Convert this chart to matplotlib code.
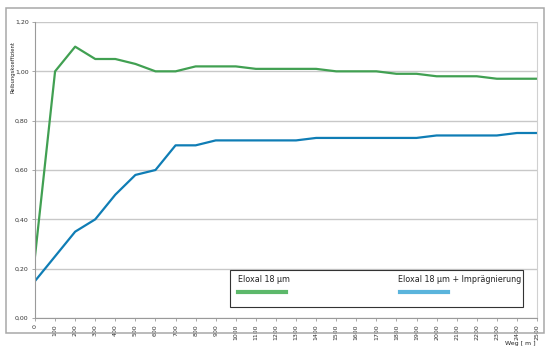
import matplotlib
matplotlib.use("Agg")
import matplotlib.pyplot as plt
from matplotlib.patches import Rectangle
from matplotlib.lines import Line2D

weg = [0, 100, 200, 300, 400, 500, 600, 700, 800, 900, 1000, 1100, 1200,
       1300, 1400, 1500, 1600, 1700, 1800, 1900, 2000, 2100, 2200, 2300, 2400, 2500]
eloxal = [0.25, 1.00, 1.10, 1.05, 1.05, 1.03, 1.00, 1.00, 1.02, 1.02, 1.02, 1.01, 1.01,
          1.01, 1.01, 1.00, 1.00, 1.00, 0.99, 0.99, 0.98, 0.98, 0.98, 0.97, 0.97, 0.97]
eloxal_impr = [0.15, 0.25, 0.35, 0.40, 0.50, 0.58, 0.60, 0.70, 0.70, 0.72, 0.72, 0.72, 0.72,
               0.72, 0.73, 0.73, 0.73, 0.73, 0.73, 0.73, 0.74, 0.74, 0.74, 0.74, 0.75, 0.75]
y_ticks = [0.0, 0.2, 0.4, 0.6, 0.8, 1.0, 1.2]
y_ticklabels = ["0,00", "0,20", "0,40", "0,60", "0,80", "1,00", "1,20"]
x_ticklabels = [str(v) for v in weg]
series_names = ["Eloxal 18 µm", "Eloxal 18 µm + Imprägnierung"]

green = "#41a052"
blue = "#0f7db5"

fig = plt.figure(figsize=(5.5, 3.54), dpi=100)
fig.patch.set_facecolor("white")

# outer frame (scan look)
fig.patches.append(Rectangle((6/550, 1-333/354), 538/550, 325/354, transform=fig.transFigure,
                             fill=False, edgecolor="#a8a8a8", linewidth=1.1))

ax = fig.add_axes([35/550, 1-318/354, 502/550, 296/354])
ax.plot(weg, eloxal, color=green, linewidth=1.6)
ax.plot(weg, eloxal_impr, color=blue, linewidth=1.6)

ax.set_xlim(0, 2500)
ax.set_ylim(0, 1.2)
ax.set_yticks(y_ticks)
ax.set_yticklabels(y_ticklabels, fontsize=4.5, color="#333333")
ax.set_xticks(weg)
ax.set_xticklabels(x_ticklabels, fontsize=4.5, rotation=90, color="#333333")
ax.yaxis.grid(True, color="#c8c8c8", linewidth=1.0)
ax.set_axisbelow(True)
ax.spines["top"].set_visible(False)
ax.spines["left"].set_color("#9a9a9a")
ax.spines["bottom"].set_color("#9a9a9a")
ax.spines["right"].set_color("#d0d0d0")
ax.tick_params(axis="both", length=2.5, width=0.6, color="#9a9a9a", pad=2)

fig.text(13/550, 1-67/354, "Reibungskoeffizient", rotation=90, fontsize=3.8,
         ha="center", va="center", color="#222222")
fig.text(520/550, 1-343/354, "Weg [ m ]", fontsize=4.5, ha="center", va="center",
         color="#222222")

# legend box
lx0, ly0, lx1, ly1 = 230, 270, 523, 307
fig.patches.append(Rectangle((lx0/550, 1-ly1/354), (lx1-lx0)/550, (ly1-ly0)/354,
                             transform=fig.transFigure, facecolor="white",
                             edgecolor="#333333", linewidth=0.8, zorder=5))
fig.text(238/550, 1-280/354, series_names[0], fontsize=5.8, ha="left", va="center",
         color="#222222", zorder=6)
fig.text(398/550, 1-280/354, series_names[1], fontsize=5.8, ha="left", va="center",
         color="#222222", zorder=6)
fig.lines.append(Line2D([238/550, 286/550], [1-292/354, 1-292/354], transform=fig.transFigure,
                        color="#5cb86a", linewidth=3.0, zorder=6))
fig.lines.append(Line2D([400/550, 448/550], [1-292/354, 1-292/354], transform=fig.transFigure,
                        color="#5ab4dc", linewidth=3.0, zorder=6))

fig.savefig("out.png", dpi=100)
